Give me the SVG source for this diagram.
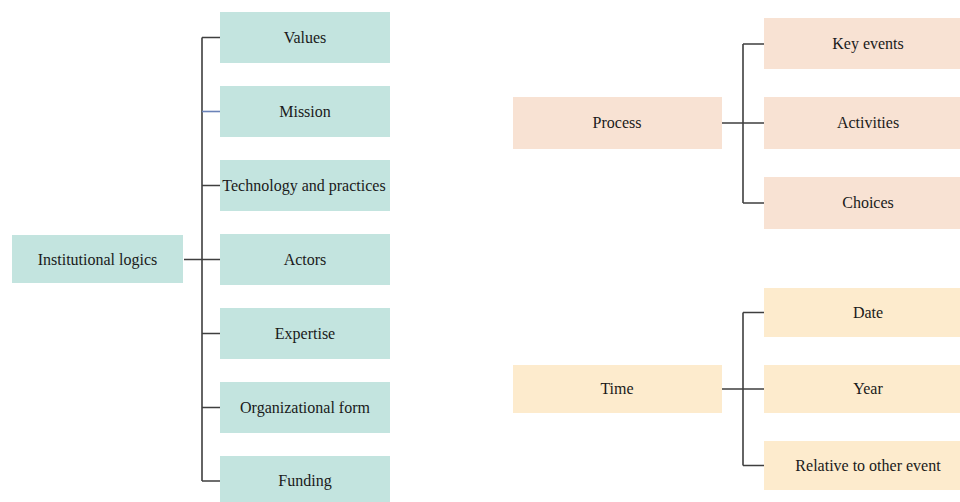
<svg xmlns="http://www.w3.org/2000/svg" width="960" height="502" viewBox="0 0 960 502">
<style>
.teal{fill:#c3e4df}
.peach{fill:#f8e2d3}
.sand{fill:#fdebcd}
text{font-family:'Liberation Serif','DejaVu Serif',serif;font-size:16px;fill:#1a1a1a;text-anchor:middle}
.ln{stroke:#3f3f3f;stroke-width:1.6;fill:none}
.blue{stroke:#6b83b8;stroke-width:1.6;fill:none}
</style>
<rect width="960" height="502" fill="#ffffff"/>
<g id="connectors">
<path class="ln" d="M184 259.5H202M202 37.5V481M202 37.5H220M202 185.5H220M202 259.5H220M202 333.5H220M202 407.5H220M202 481H220"/>
<path class="blue" d="M202 111.5H220"/>
<path class="ln" d="M722 123H743M743 44V203M743 44H764M743 123H764M743 203H764"/>
<path class="ln" d="M722 389H743M743 312.5V465.5M743 312.5H764M743 389H764M743 465.5H764"/>
</g>
<g id="institutional-logics"><rect class="teal" x="12" y="235" width="171" height="48"/><text x="97.5" y="264.5">Institutional logics</text></g>
<g id="values"><rect class="teal" x="220" y="12" width="170" height="51"/><text x="305" y="42.5">Values</text></g>
<g id="mission"><rect class="teal" x="220" y="86" width="170" height="51"/><text x="305" y="116.5">Mission</text></g>
<g id="technology"><rect class="teal" x="220" y="160" width="170" height="51"/><text x="304" y="190.5">Technology and practices</text></g>
<g id="actors"><rect class="teal" x="220" y="234" width="170" height="51"/><text x="305" y="264.5">Actors</text></g>
<g id="expertise"><rect class="teal" x="220" y="308" width="170" height="51"/><text x="305" y="338.5">Expertise</text></g>
<g id="organizational-form"><rect class="teal" x="220" y="382" width="170" height="51"/><text x="305" y="412.5">Organizational form</text></g>
<g id="funding"><rect class="teal" x="220" y="456" width="170" height="51"/><text x="305" y="486">Funding</text></g>
<g id="process"><rect class="peach" x="513" y="97" width="209" height="52"/><text x="617" y="128">Process</text></g>
<g id="key-events"><rect class="peach" x="764" y="18" width="196" height="51"/><text x="868" y="48.5">Key events</text></g>
<g id="activities"><rect class="peach" x="764" y="97" width="196" height="52"/><text x="868" y="128">Activities</text></g>
<g id="choices"><rect class="peach" x="764" y="177" width="196" height="52"/><text x="868" y="207.5">Choices</text></g>
<g id="time"><rect class="sand" x="513" y="365" width="209" height="48"/><text x="617" y="394">Time</text></g>
<g id="date"><rect class="sand" x="764" y="288" width="196" height="49"/><text x="868" y="317.5">Date</text></g>
<g id="year"><rect class="sand" x="764" y="365" width="196" height="48"/><text x="868" y="394">Year</text></g>
<g id="relative"><rect class="sand" x="764" y="441" width="196" height="49"/><text x="868" y="470.5">Relative to other event</text></g>
</svg>
